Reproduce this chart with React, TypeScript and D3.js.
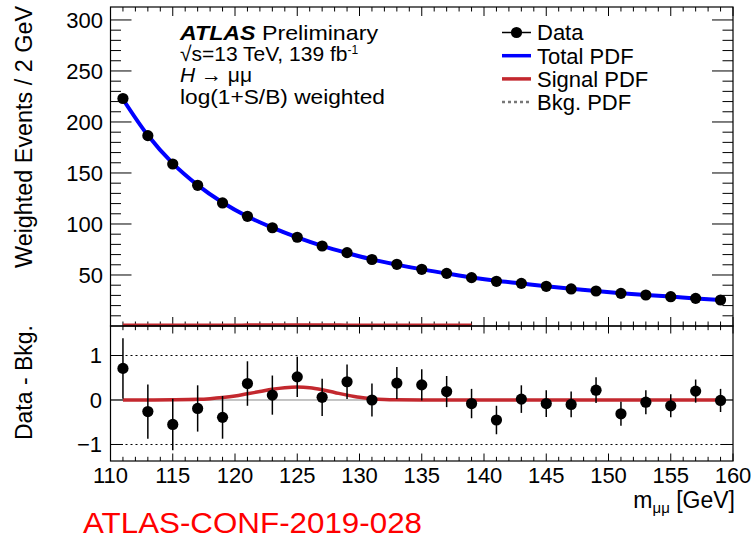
import React from 'react';
import * as d3 from 'd3';

// ---------------- data ----------------
const massBins = [111, 113, 115, 117, 119, 121, 123, 125, 127, 129, 131, 133, 135, 137, 139, 141, 143, 145, 147, 149, 151, 153, 155, 157, 159];
const dataEvents = [223.0, 186.6, 158.8, 137.9, 120.6, 107.5, 96.3, 87.0, 78.4, 71.9, 65.2, 60.5, 55.6, 51.6, 47.4, 43.8, 41.8, 38.9, 36.3, 34.3, 32.0, 30.4, 28.7, 27.1, 25.5];
const dataErrors = [0.68, 0.61, 0.58, 0.52, 0.48, 0.5, 0.44, 0.45, 0.42, 0.39, 0.37, 0.36, 0.35, 0.35, 0.33, 0.32, 0.31, 0.3, 0.29, 0.29, 0.27, 0.27, 0.26, 0.26, 0.26];
const residuals = [0.71, -0.26, -0.55, -0.19, -0.39, 0.37, 0.11, 0.52, 0.06, 0.41, 0.0, 0.38, 0.34, 0.19, -0.08, -0.45, 0.02, -0.08, -0.1, 0.22, -0.31, -0.05, -0.13, 0.2, -0.01];
const bkgPdf = [222.3, 186.9, 159.4, 138.1, 121.0, 107.2, 96.2, 86.6, 78.4, 71.5, 65.3, 60.2, 55.5, 51.5, 47.6, 44.3, 41.7, 39.0, 36.5, 34.2, 32.2, 30.4, 28.8, 27.0, 25.5];
const totalPdf = [222.3, 186.9, 159.4, 138.1, 121.05, 107.35, 96.45, 86.9, 78.6, 71.6, 65.33, 60.2, 55.5, 51.5, 47.6, 44.3, 41.7, 39.0, 36.5, 34.2, 32.2, 30.4, 28.8, 27.0, 25.5];
const signalMass = [111, 113, 115, 117, 118, 119, 120, 121, 122, 123, 124, 125, 126, 127, 128, 129, 130, 131, 132, 133, 135, 139, 145, 150, 159];
const signalPdf = [0, 0.002, 0.005, 0.015, 0.03, 0.055, 0.09, 0.14, 0.19, 0.24, 0.275, 0.29, 0.275, 0.23, 0.17, 0.11, 0.06, 0.03, 0.012, 0.005, 0.001, 0, 0, 0, 0];
const signalTopEnd = 139;
const xTickLabels = [110, 115, 120, 125, 130, 135, 140, 145, 150, 155, 160];
const yTopTickLabels = [50, 100, 150, 200, 250, 300];
const yBotTickLabels = [-1, 0, 1];
const legendLabels = ['Data', 'Total PDF', 'Signal PDF', 'Bkg. PDF'];

// ---------------- layout ----------------
const W = 751, H = 538;
const L = 110.5, R = 733;
const topT = 7, topB = 326;
const botT = 326, botB = 461;
const FONT = "'Liberation Sans', Arial, Helvetica, sans-serif";
const BLUE = '#0000ff';
const RED = '#c3282e';

const x = d3.scaleLinear().domain([110, 160]).range([L, R]);
const yTop = d3.scaleLinear().domain([0, 312.7]).range([topB, topT]);
const yBot = d3.scaleLinear().domain([-1.371, 1.663]).range([botB, botT]);

export default function App() {
  const totalLine = d3.line<number>().x((_, i) => x(massBins[i])).y((d) => yTop(d)).curve(d3.curveMonotoneX);
  const sigIdxTop = signalMass.map((m, i) => i).filter((i) => signalMass[i] <= signalTopEnd);
  const sigTopLine = d3.line<number>().x((i) => x(signalMass[i])).y((i) => yTop(signalPdf[i]) - 1).curve(d3.curveMonotoneX);
  const sigBotLine = d3.line<number>().x((_, i) => x(signalMass[i])).y((d) => yBot(d)).curve(d3.curveMonotoneX);

  const xMinor = d3.range(110, 160.001, 1);
  const yTopMinor = d3.range(10, 300.001, 10);

  return (
    <svg width={W} height={H} style={{ position: 'absolute', left: 0, top: 0, background: '#fff' }} fontFamily={FONT}>
      <rect x={0} y={0} width={W} height={H} fill="#fff" />

      {/* ---------- top panel ---------- */}
      <g>
        {yTopMinor.map((v) => {
          const major = v % 50 === 0;
          const len = major ? 21 : 10.5;
          return (
            <g key={'yt' + v} stroke="#000" strokeWidth={1}>
              <line x1={L} x2={L + len} y1={yTop(v)} y2={yTop(v)} />
              <line x1={R} x2={R - len} y1={yTop(v)} y2={yTop(v)} />
            </g>
          );
        })}
        {xMinor.map((v) => {
          const major = Math.abs(v % 5) < 1e-6;
          const len = major ? 9 : 4.5;
          return (
            <g key={'xt' + v} stroke="#000" strokeWidth={1}>
              <line x1={x(v)} x2={x(v)} y1={topT} y2={topT + len} />
              <line x1={x(v)} x2={x(v)} y1={topB} y2={topB - len} />
            </g>
          );
        })}
        {yTopTickLabels.map((v) => (
          <text key={'ytl' + v} x={103} y={yTop(v)} dy="0.36em" textAnchor="end" fontSize={22}>{v}</text>
        ))}

        <path d={totalLine(bkgPdf) || ''} fill="none" stroke="#777" strokeWidth={2.5} strokeDasharray="3,3" />
        <path d={sigTopLine(sigIdxTop) || ''} fill="none" stroke={RED} strokeWidth={3} />
        <path d={totalLine(totalPdf) || ''} fill="none" stroke={BLUE} strokeWidth={4} />
        {massBins.map((m, i) => (
          <g key={'dt' + m}>
            <line x1={x(m)} x2={x(m)} y1={yTop(dataEvents[i] - dataErrors[i])} y2={yTop(dataEvents[i] + dataErrors[i])} stroke="#000" strokeWidth={1.5} />
            <circle cx={x(m)} cy={yTop(dataEvents[i])} r={5.6} fill="#000" />
          </g>
        ))}
        <rect x={L} y={topT} width={R - L} height={topB - topT} fill="none" stroke="#000" strokeWidth={1.2} />
      </g>

      {/* ---------- bottom panel ---------- */}
      <g>
        <line x1={L} x2={R} y1={yBot(1)} y2={yBot(1)} stroke="#000" strokeWidth={1} strokeDasharray="2,3" />
        <line x1={L} x2={R} y1={yBot(-1)} y2={yBot(-1)} stroke="#000" strokeWidth={1} strokeDasharray="2,3" />
        <line x1={L} x2={R} y1={yBot(0)} y2={yBot(0)} stroke="#888" strokeWidth={1} />
        {yBotTickLabels.map((v) => (
          <g key={'ybt' + v} stroke="#000" strokeWidth={1}>
            <line x1={L} x2={L + 12.5} y1={yBot(v)} y2={yBot(v)} />
            <line x1={R} x2={R - 12.5} y1={yBot(v)} y2={yBot(v)} />
          </g>
        ))}
        {xMinor.map((v) => {
          const major = Math.abs(v % 5) < 1e-6;
          const len = major ? 7.5 : 4.2;
          return (
            <g key={'xbt' + v} stroke="#000" strokeWidth={1}>
              <line x1={x(v)} x2={x(v)} y1={botT} y2={botT + len} />
              <line x1={x(v)} x2={x(v)} y1={botB} y2={botB - len} />
            </g>
          );
        })}
        {yBotTickLabels.map((v) => (
          <text key={'ybl' + v} x={102} y={yBot(v)} dy="0.36em" textAnchor="end" fontSize={22}>{v < 0 ? '\u2212' + Math.abs(v) : v}</text>
        ))}
        <path d={sigBotLine(signalPdf) || ''} fill="none" stroke={RED} strokeWidth={3.5} />
        {massBins.map((m, i) => (
          <g key={'rs' + m}>
            <line x1={x(m)} x2={x(m)} y1={yBot(residuals[i] - dataErrors[i])} y2={yBot(residuals[i] + dataErrors[i])} stroke="#000" strokeWidth={1.5} />
            <circle cx={x(m)} cy={yBot(residuals[i])} r={5.6} fill="#000" />
          </g>
        ))}
        <rect x={L} y={botT} width={R - L} height={botB - botT} fill="none" stroke="#000" strokeWidth={1.2} />
        {xTickLabels.map((v) => (
          <text key={'xl' + v} x={x(v)} y={482.5} textAnchor="middle" fontSize={22}>{v}</text>
        ))}
      </g>

      {/* ---------- axis titles ---------- */}
      <text transform="translate(32,6) rotate(-90)" textAnchor="end" fontSize={23} textLength={262} lengthAdjust="spacingAndGlyphs">Weighted Events / 2 GeV</text>
      <text transform="translate(32,325) rotate(-90)" textAnchor="end" fontSize={23}>Data - Bkg.</text>
      <text x={735} y={508} textAnchor="end" fontSize={23}>
        m<tspan fontSize={15} dy={5}>μμ</tspan><tspan dy={-5}> [GeV]</tspan>
      </text>

      {/* ---------- ATLAS label ---------- */}
      <g fontSize={21}>
        <text x={180} y={39.5} textLength={198} lengthAdjust="spacingAndGlyphs">
          <tspan fontWeight="bold" fontStyle="italic">ATLAS</tspan>
          <tspan> Preliminary</tspan>
        </text>
        <text x={180} y={60.5}>
          √s=13 TeV, 139 fb<tspan fontSize={12} dy={-7}>-1</tspan>
        </text>
        <text x={180} y={82}>
          <tspan fontStyle="italic">H</tspan>
          <tspan> → μμ</tspan>
        </text>
        <text x={180} y={103.5} textLength={205} lengthAdjust="spacingAndGlyphs">log(1+S/B) weighted</text>
      </g>

      {/* ---------- legend ---------- */}
      <g fontSize={22}>
        {legendLabels.map((lab, i) => {
          const cy = 32.5 + i * 23.2;
          let sym;
          if (i === 0) {
            sym = (
              <g>
                <line x1={502} x2={531} y1={cy} y2={cy} stroke="#000" strokeWidth={1.5} />
                <circle cx={516.5} cy={cy} r={5.6} fill="#000" />
              </g>
            );
          } else if (i === 1) {
            sym = <line x1={502} x2={531} y1={cy} y2={cy} stroke={BLUE} strokeWidth={3.5} />;
          } else if (i === 2) {
            sym = <line x1={502} x2={531} y1={cy} y2={cy} stroke={RED} strokeWidth={3.5} />;
          } else {
            sym = <line x1={502} x2={531} y1={cy} y2={cy} stroke="#777" strokeWidth={2.5} strokeDasharray="3,3" />;
          }
          return (
            <g key={lab}>
              {sym}
              <text x={537} y={cy} dy="0.36em">{lab}</text>
            </g>
          );
        })}
      </g>

      <text x={83} y={533} fontSize={30} fill="#ff0000" textLength={339} lengthAdjust="spacingAndGlyphs">ATLAS-CONF-2019-028</text>
    </svg>
  );
}
